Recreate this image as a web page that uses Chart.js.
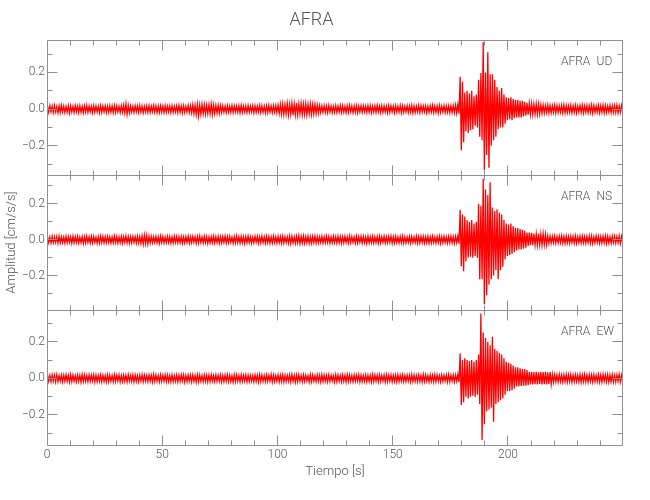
<!DOCTYPE html>
<html><head><meta charset="utf-8">
<script src="https://cdn.jsdelivr.net/npm/chart.js@4.4.1/dist/chart.umd.min.js"></script>
<style>html,body{margin:0;padding:0;background:#fff;}canvas{display:block;}</style>
</head><body>
<canvas id="c" width="650" height="500"></canvas>
<script>
// ---- data ----
const estacion = 'AFRA';
const componentes = ['UD', 'NS', 'EW'];
// 1-second bins (start time, s)
const tiempo = Array.from({length: 250}, (_, i) => i);
// per-second peak amplitudes (positive and negative), in 0.001 cm/s/s
const udMax = [
16,19,17,20,15,18,21,17,16,19,18,15,20,17,19,16,18,21,17,15,19,18,16,20,17,
18,16,19,17,20,18,15,19,22,30,21,17,16,19,18,20,17,15,18,19,16,20,18,17,19,
17,20,16,18,19,15,18,21,17,19,16,20,18,24,22,26,23,27,25,22,24,28,23,21,22,
20,18,16,19,17,20,18,16,19,21,17,18,20,16,19,18,17,20,19,16,18,21,17,19,20,
22,26,28,25,30,27,32,29,33,28,31,27,30,26,29,25,27,23,20,18,19,17,20,18,16,
19,17,20,18,16,19,21,17,18,20,16,19,18,17,20,19,16,18,21,17,19,18,16,20,18,
17,19,16,20,18,15,19,17,21,18,16,19,20,17,18,16,19,21,17,18,20,16,19,18,17,
19,20,22,25,177,150,90,100,85,100,70,80,160,197,365,200,310,190,190,160,120,100,115,80,65,
60,65,55,50,50,45,45,40,35,32,30,28,29,27,24,22,20,23,21,19,22,20,18,21,23,
20,18,22,19,21,17,20,22,18,21,19,23,20,18,21,19,22,20,17,21,19,20,22,18,20];
const udMin = [
-17,-15,-19,-16,-20,-18,-15,-19,-17,-21,-16,-18,-15,-19,-17,-20,-16,-18,-15,-19,-17,-16,-20,-18,-15,
-19,-17,-16,-20,-18,-15,-19,-17,-21,-28,-20,-16,-18,-15,-19,-17,-20,-16,-18,-19,-15,-17,-20,-18,-16,
-19,-17,-15,-20,-18,-16,-19,-17,-20,-18,-16,-19,-21,-26,-30,-38,-28,-25,-27,-24,-26,-29,-24,-22,-23,
-19,-17,-20,-16,-18,-19,-15,-17,-20,-18,-16,-19,-17,-15,-20,-18,-16,-19,-17,-21,-18,-16,-19,-17,-20,
-23,-27,-29,-26,-31,-28,-33,-30,-32,-27,-30,-28,-31,-26,-29,-27,-25,-22,-19,-17,-18,-20,-16,-19,-17,
-18,-16,-19,-17,-20,-18,-15,-19,-17,-21,-16,-18,-15,-19,-17,-20,-16,-18,-15,-19,-17,-16,-20,-18,-15,
-19,-17,-16,-20,-18,-15,-19,-17,-21,-18,-16,-19,-17,-15,-20,-18,-16,-19,-17,-21,-18,-16,-19,-17,-20,
-18,-20,-22,-25,-224,-180,-120,-130,-115,-110,-90,-100,-150,-170,-333,-250,-320,-200,-170,-150,-110,-100,-100,-80,-60,
-55,-60,-50,-45,-45,-45,-40,-35,-30,-28,-29,-27,-28,-26,-23,-21,-19,-22,-20,-18,-21,-19,-17,-20,-22,
-19,-17,-21,-18,-20,-16,-19,-21,-17,-20,-18,-22,-19,-17,-20,-18,-21,-19,-16,-20,-18,-19,-21,-17,-19];
const nsMax = [
17,15,19,16,18,20,17,15,19,18,16,20,17,19,15,18,17,20,16,19,18,15,17,20,18,
16,19,17,15,20,18,16,19,17,21,18,16,19,17,20,18,22,26,24,20,18,16,19,17,20,
18,15,19,17,16,20,18,17,19,15,18,20,16,19,17,18,20,16,19,17,15,18,20,17,19,
16,18,20,17,19,15,18,21,17,19,16,18,20,17,15,19,18,16,20,17,19,18,16,20,17,
19,17,20,18,16,21,19,17,20,22,19,21,18,20,17,19,21,18,16,19,17,20,18,16,19,
17,20,18,16,19,17,21,18,16,20,17,19,18,15,20,17,19,16,18,20,17,19,16,18,20,
17,19,16,18,20,17,15,19,18,16,20,17,19,18,16,20,17,19,15,18,20,17,19,16,18,
20,17,19,22,167,140,130,110,100,110,90,100,200,190,340,280,250,320,180,160,170,150,140,110,90,
85,90,75,65,65,60,55,50,40,40,38,34,32,35,31,33,30,22,20,19,21,18,20,22,19,
21,18,20,19,22,17,20,21,18,19,22,20,17,21,19,18,20,22,19,17,21,20,18,21,19];
const nsMin = [
-16,-19,-17,-15,-20,-18,-16,-19,-17,-15,-20,-18,-16,-19,-17,-21,-18,-16,-19,-17,-15,-20,-18,-16,-19,
-17,-15,-19,-18,-16,-20,-17,-19,-15,-18,-20,-17,-16,-19,-18,-21,-24,-22,-25,-19,-17,-15,-18,-20,-16,
-19,-17,-16,-20,-18,-15,-19,-17,-20,-18,-16,-19,-17,-15,-20,-18,-16,-19,-17,-21,-18,-16,-19,-17,-20,
-18,-16,-19,-17,-15,-20,-18,-16,-19,-17,-21,-18,-16,-19,-17,-15,-20,-18,-16,-19,-17,-20,-18,-16,-19,
-17,-20,-18,-16,-19,-21,-18,-20,-17,-22,-19,-20,-18,-21,-19,-17,-20,-18,-16,-19,-17,-15,-20,-18,-16,
-19,-17,-20,-18,-16,-19,-17,-15,-20,-18,-16,-19,-17,-21,-18,-16,-19,-17,-20,-18,-16,-19,-17,-15,-20,
-18,-16,-19,-17,-20,-18,-15,-19,-17,-16,-20,-18,-16,-19,-17,-21,-18,-16,-19,-17,-20,-18,-16,-19,-17,
-18,-20,-17,-22,-148,-176,-120,-100,-95,-100,-90,-100,-220,-220,-360,-310,-250,-220,-200,-170,-220,-170,-150,-110,-90,
-85,-80,-70,-60,-55,-55,-50,-45,-35,-30,-31,-29,-30,-28,-30,-27,-29,-21,-19,-17,-20,-18,-16,-19,-21,
-18,-20,-17,-19,-21,-16,-19,-18,-20,-17,-19,-21,-18,-16,-20,-19,-17,-21,-18,-20,-16,-19,-18,-20,-17];
const ewMax = [
18,16,19,17,20,15,18,17,19,16,20,18,15,19,17,21,18,16,19,17,20,18,16,19,17,
15,19,18,16,20,17,19,15,18,17,20,16,19,18,15,17,20,18,16,19,17,21,18,16,19,
17,20,18,16,19,15,18,17,20,19,16,18,17,19,15,20,18,16,19,17,18,20,16,19,17,
19,16,18,20,17,15,19,18,16,20,17,19,18,16,15,19,17,20,18,16,19,17,21,18,16,
19,17,20,18,16,19,21,17,18,20,16,19,17,15,20,18,16,19,17,20,18,16,19,17,15,
20,18,16,19,17,21,18,16,19,17,20,18,15,19,17,16,20,18,17,19,16,18,20,17,19,
16,18,20,17,19,15,18,17,20,18,16,19,17,21,18,16,19,17,20,18,15,19,17,18,20,
17,19,18,22,136,100,110,100,95,100,90,100,130,354,250,220,200,180,227,160,150,140,130,110,90,
85,80,70,60,60,55,50,50,45,35,36,34,35,33,36,34,35,33,34,22,20,19,21,18,20,
22,19,21,18,20,17,21,19,22,18,20,19,21,17,20,18,22,19,21,18,20,17,19,21,18];
const ewMin = [
-17,-19,-16,-20,-18,-15,-19,-17,-16,-20,-18,-16,-19,-17,-21,-18,-16,-19,-17,-15,-20,-18,-16,-19,-17,
-20,-18,-16,-19,-17,-15,-20,-18,-17,-19,-16,-18,-20,-17,-19,-16,-18,-15,-19,-17,-20,-18,-16,-19,-17,
-16,-19,-17,-20,-18,-16,-19,-17,-15,-20,-18,-16,-19,-17,-21,-18,-16,-19,-17,-20,-18,-15,-19,-17,-16,
-20,-18,-16,-19,-17,-21,-18,-16,-19,-17,-15,-20,-18,-16,-19,-17,-20,-18,-16,-19,-17,-15,-20,-18,-16,
-19,-17,-20,-18,-16,-19,-17,-21,-18,-16,-19,-17,-15,-20,-18,-16,-19,-17,-20,-18,-16,-19,-17,-15,-20,
-18,-16,-19,-17,-21,-18,-16,-19,-17,-15,-20,-18,-16,-19,-17,-20,-18,-16,-19,-17,-15,-20,-18,-16,-19,
-17,-20,-18,-16,-19,-17,-15,-20,-18,-16,-19,-17,-21,-18,-16,-19,-17,-20,-18,-16,-19,-17,-15,-20,-18,
-16,-19,-17,-21,-145,-130,-100,-110,-100,-95,-100,-90,-140,-336,-250,-180,-170,-160,-237,-140,-130,-120,-110,-90,-70,
-70,-65,-55,-45,-45,-42,-40,-40,-38,-33,-34,-32,-33,-31,-34,-32,-33,-31,-32,-21,-19,-20,-18,-21,-19,
-20,-18,-21,-19,-17,-20,-22,-18,-19,-21,-17,-20,-19,-18,-21,-20,-17,-19,-21,-18,-20,-19,-17,-20,-18];
// axis limits per channel (cm/s/s), time range (s) and tick labels
const yMin = [-0.359, -0.392, -0.364];
const yMax = [0.377, 0.361, 0.373];
const tMin = 0, tMax = 249.9;
const xTicks = [0, 50, 100, 150, 200];
const yTicks = [-0.2, 0, 0.2];
const ejeX = 'Tiempo [s]';
const ejeY = 'Amplitud [cm/s/s]';

// ---- style ----
const FONT = "Roboto, 'Liberation Sans', sans-serif";
const FW = '300';
const TXT = '#555';
const AXIS = '#8f8f8f';
const RED = 'rgb(255,0,0)';

const series = {UD: [udMax, udMin], NS: [nsMax, nsMin], EW: [ewMax, ewMin]};

// trace: each second's positive peak followed by its negative peak
const datasets = componentes.map(c => {
  const [hi, lo] = series[c];
  const pts = [];
  tiempo.forEach((t, i) => {
    pts.push({x: t + 0.25, y: hi[i] / 1000});
    pts.push({x: t + 0.75, y: lo[i] / 1000});
  });
  return {label: c, yAxisID: 'y' + c, data: pts,
    borderColor: RED, borderWidth: 1.3, pointRadius: 0, fill: false, tension: 0};
});

const fmtY = v => {
  if (Math.abs(v) < 1e-9) return '0.0';
  return (v < 0 ? '\u2212' : '') + Math.abs(v).toFixed(1);
};

const scales = {
  x: {
    type: 'linear', position: 'bottom', min: tMin, max: tMax,
    grid: {display: false, drawTicks: false, tickLength: 0}, border: {display: false},
    afterBuildTicks: s => { s.ticks = xTicks.map(v => ({value: v})); },
    ticks: {padding: 3, maxRotation: 0, autoSkip: false,
      color: TXT, font: {family: FONT, size: 12, weight: FW}, callback: v => String(v)},
    title: {display: true, text: ejeX, color: TXT, font: {family: FONT, size: 13, weight: FW}, padding: {top: 0, bottom: 20}},
    afterFit: s => { s.height = 55; }
  }
};
// define bottom panel first so that UD ends on top
[...componentes].reverse().forEach(c => {
  const k = componentes.indexOf(c);
  scales['y' + c] = {
    type: 'linear', position: 'left', stack: 'canales', stackWeight: 1, offset: false,
    min: yMin[k], max: yMax[k],
    grid: {display: false, drawTicks: false, tickLength: 0}, border: {display: false},
    afterBuildTicks: s => { s.ticks = yTicks.map(v => ({value: v})); },
    ticks: {padding: 2, autoSkip: false, color: TXT, font: {family: FONT, size: 12, weight: FW}, callback: fmtY},
    afterFit: s => { s.width = 47; }
  };
});

const px = v => Math.floor(v) + 0.5;

const marco = {
  id: 'marco',
  afterDatasetsDraw(chart) {
    const ctx = chart.ctx, xs = chart.scales.x, area = chart.chartArea;
    ctx.save();
    ctx.strokeStyle = AXIS; ctx.lineWidth = 1;
    const L = px(area.left), R = px(area.right - 1);
    componentes.forEach(c => {
      const ys = chart.scales['y' + c];
      const T = px(ys.top), B = px(ys.bottom);
      ctx.beginPath();
      ctx.rect(L, T, R - L, B - T);
      for (let v = 10; v < xs.max; v += 10) {
        const x = px(xs.getPixelForValue(v));
        const len = v % 50 === 0 ? 10 : 5;
        ctx.moveTo(x, T); ctx.lineTo(x, T + len);
        ctx.moveTo(x, B); ctx.lineTo(x, B - len);
      }
      for (let n = Math.ceil(ys.min * 10 + 1e-6); n <= Math.floor(ys.max * 10 - 1e-6); n++) {
        const y = px(ys.getPixelForValue(n / 10));
        const len = n % 2 === 0 ? 10 : 5;
        ctx.moveTo(L, y); ctx.lineTo(L + len, y);
        ctx.moveTo(R, y); ctx.lineTo(R - len, y);
      }
      ctx.stroke();
      ctx.fillStyle = TXT;
      ctx.font = FW + ' 12px ' + FONT;
      ctx.textBaseline = 'middle';
      ctx.textAlign = 'left';
      ctx.fillText(estacion, area.right - 62, ys.top + 21.5);
      ctx.fillText(c, area.right - 26.5, ys.top + 21.5);
    });
    // amplitude axis title, centred on the stacked panels
    ctx.translate(12, (area.top + area.bottom) / 2);
    ctx.rotate(-Math.PI / 2);
    ctx.textAlign = 'center';
    ctx.textBaseline = 'middle';
    ctx.font = FW + ' 13px ' + FONT;
    ctx.fillText(ejeY, 0, 0);
    ctx.restore();
  }
};

new Chart(document.getElementById('c'), {
  type: 'line',
  data: {datasets},
  options: {
    responsive: false, animation: false, devicePixelRatio: 1,
    parsing: false, normalized: true,
    layout: {padding: {left: 0, right: 27, top: 0, bottom: 0}},
    scales,
    plugins: {
      legend: {display: false},
      tooltip: {enabled: false},
      title: {display: true, text: estacion, color: TXT, font: {family: FONT, size: 18, weight: FW}, padding: {top: 10, bottom: 8.4}}
    }
  },
  plugins: [marco]
});
</script>
</body></html>
